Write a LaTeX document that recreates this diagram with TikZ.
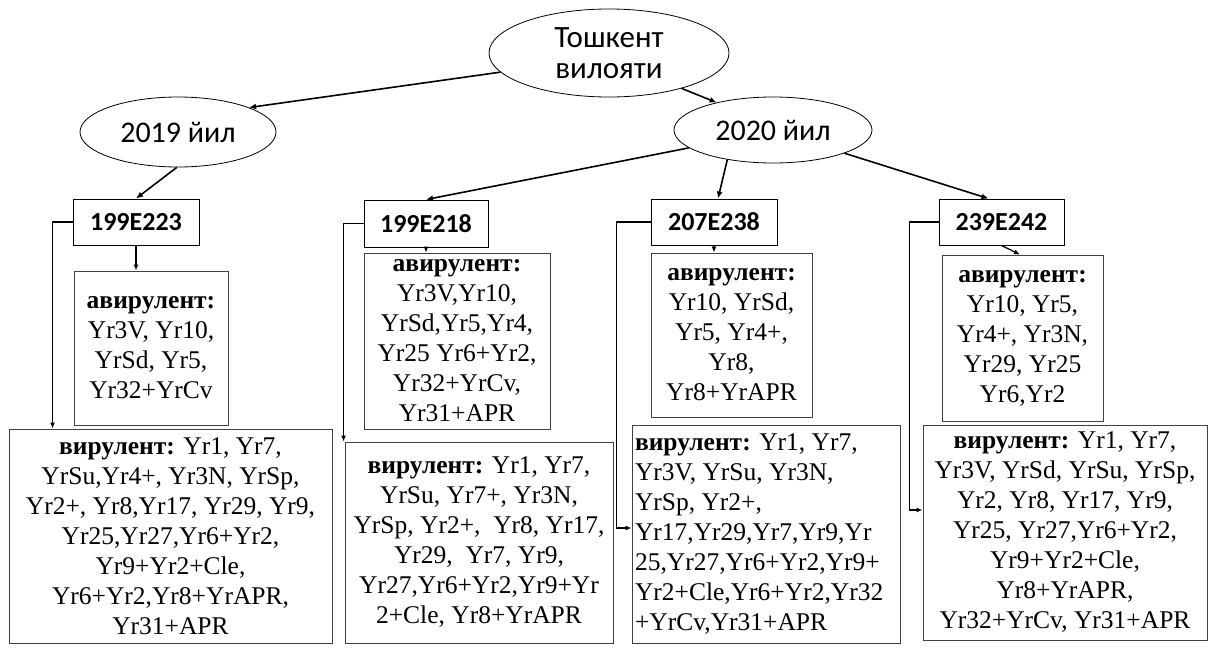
\documentclass[tikz,border=0pt]{standalone}
\usepackage{fontspec}
\setmainfont{Liberation Serif}
\newfontfamily\sansf{Carlito}
\usetikzlibrary{shapes.geometric,arrows.meta}
\tikzset{
  ell/.style={ellipse,draw=black,line width=0.8pt,inner sep=0pt,font=\sansf},
  codebox/.style={rectangle,draw=black,line width=0.9pt,inner sep=0pt,font=\sansf\bfseries\fontsize{26}{30}\selectfont},
  listbox/.style={rectangle,draw=black!75,line width=0.9pt,inner sep=2pt,align=center,font=\fontsize{25.5}{30}\selectfont},
  arr/.style={line width=1.6pt,-{Latex[length=7pt,width=6pt]}},
  elb/.style={line width=1.3pt,-{Latex[length=6pt,width=5pt]}},
}
\begin{document}
\begin{tikzpicture}[x=1pt,y=-1pt]
\useasboundingbox (0,0) rectangle (1211,651);
\fill[white] (0,0) rectangle (1211,651);
% ellipses
\node[ell,minimum width=240pt,minimum height=88pt,align=center,font=\sansf\fontsize{31}{31}\selectfont] (top) at (609,53) {Тошкент\\вилояти};
\node[ell,minimum width=196pt,minimum height=70pt,font=\sansf\fontsize{30}{32}\selectfont] (y2019) at (178,132) {2019 йил};
\node[ell,minimum width=198pt,minimum height=66pt,font=\sansf\fontsize{30}{32}\selectfont] (y2020) at (773,130) {2020 йил};
% code boxes
\node[codebox,minimum width=126pt,minimum height=46pt] (b1) at (136,222) {199E223};
\node[codebox,minimum width=124pt,minimum height=47pt] (b2) at (426,223.5) {199E218};
\node[codebox,minimum width=126pt,minimum height=46pt] (b3) at (714,222) {207E238};
\node[codebox,minimum width=125pt,minimum height=46pt] (b4) at (1001.5,222) {239E242};
% avirulent boxes
\node[listbox,minimum width=154pt,minimum height=154pt] (a1) at (151,348)
 {\textbf{авирулент:}\\Yr3V, Yr10,\\YrSd, Yr5,\\Yr32+YrCv};
\node[listbox,minimum width=186pt,minimum height=176pt] (a2) at (457,341)
 {\textbf{авирулент:}\\Yr3V,Yr10,\\YrSd,Yr5,Yr4,\\Yr25 Yr6+Yr2,\\Yr32+YrCv,\\Yr31+APR};
\node[listbox,minimum width=161pt,minimum height=164pt] (a3) at (731.5,335)
 {\textbf{авирулент:}\\Yr10, YrSd,\\Yr5, Yr4+,\\Yr8,\\Yr8+YrAPR};
\node[listbox,minimum width=161pt,minimum height=166pt] (a4) at (1022.5,338)
 {\textbf{авирулент:}\\Yr10, Yr5,\\Yr4+, Yr3N,\\Yr29, Yr25\\Yr6,Yr2};
% virulent boxes
\node[listbox,minimum width=323pt,minimum height=214pt] (v1) at (170.5,536)
 {\textbf{вирулент:} Yr1, Yr7,\\YrSu,Yr4+, Yr3N, YrSp,\\Yr2+, Yr8,Yr17, Yr29, Yr9,\\Yr25,Yr27,Yr6+Yr2,\\Yr9+Yr2+Cle,\\Yr6+Yr2,Yr8+YrAPR,\\Yr31+APR};
\node[listbox,minimum width=268pt,minimum height=201pt] (v2) at (479,542.5)
 {\textbf{вирулент:} Yr1, Yr7,\\YrSu, Yr7+, Yr3N,\\YrSp, Yr2+,\ \ Yr8, Yr17,\\Yr29,\ \ Yr7, Yr9,\\Yr27,Yr6+Yr2,Yr9+Yr\\2+Cle, Yr8+YrAPR};
\node[listbox,minimum width=268pt,minimum height=218pt,text width=262pt,align=flush left] (v3) at (766,534)
 {\textbf{вирулент:} Yr1, Yr7,\\Yr3V, YrSu, Yr3N,\\YrSp, Yr2+,\\Yr17,Yr29,Yr7,Yr9,Yr\\25,Yr27,Yr6+Yr2,Yr9+\\Yr2+Cle,Yr6+Yr2,Yr32\\+YrCv,Yr31+APR};
\node[listbox,minimum width=284pt,minimum height=215pt] (v4) at (1065,532.5)
 {\textbf{вирулент:} Yr1, Yr7,\\Yr3V, YrSd, YrSu, YrSp,\\Yr2, Yr8, Yr17, Yr9,\\Yr25, Yr27,Yr6+Yr2,\\Yr9+Yr2+Cle,\\Yr8+YrAPR,\\Yr32+YrCv, Yr31+APR};
% tree arrows
\draw[arr] (top.190) -- (y2019.19);
\draw[arr] (top.334) -- (y2020.154);
\draw[arr] (y2019.268) -- (b1.north);
\draw[arr] (y2020.192) -- (b2.north);
\draw[arr] (y2020.213) -- ([xshift=4pt]b3.north);
\draw[arr] (y2020.342) -- ([xshift=-13pt]b4.north);
% code -> avirulent
\draw[elb] (b1.south) -- (b1.south |- a1.north);
\draw[elb] (b2.south) -- (b2.south |- a2.north);
\draw[elb] (b3.south) -- (b3.south |- a3.north);
\draw[elb] (b4.south) -- ([xshift=-2.5pt]a4.north);
% elbows to virulent
\draw[elb] (b1.west) -- ++(-20,0) coordinate (e1) -- (e1 |- v1.north);
\draw[elb] (b2.west) -- ++(-20,0) coordinate (e2) -- (e2 |- v2.north);
\draw[elb] (b3.west) -- ++(-34,0) |- ([yshift=6pt]v3.west);
\draw[elb] (b4.west) -- ++(-29,0) |- ([yshift=22.5pt]v4.west);
\end{tikzpicture}
\end{document}
